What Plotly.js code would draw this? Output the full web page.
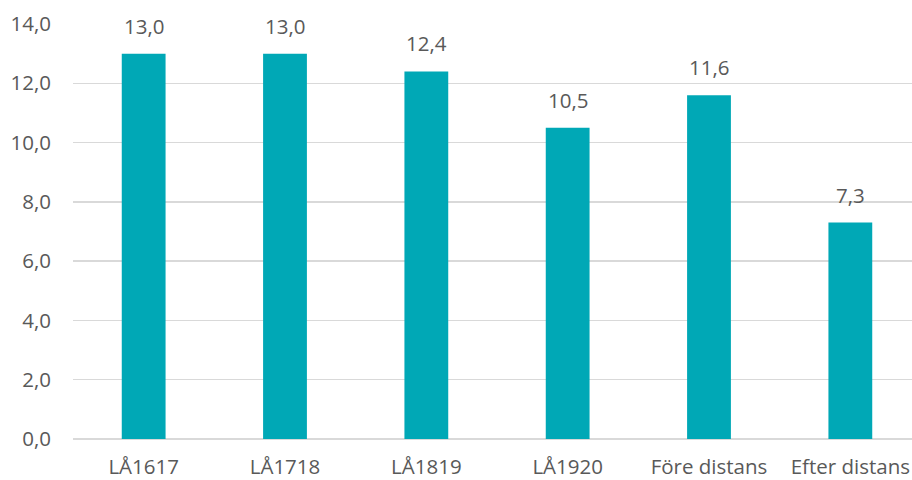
<!DOCTYPE html>
<html>
<head>
<meta charset="utf-8">
<script src="https://cdn.plot.ly/plotly-3.0.1.min.js"></script>
<style>
html, body { margin: 0; padding: 0; overflow: hidden; background: #fff; }
#chart { width: 921px; height: 480px; }
</style>
</head>
<body>
<div id="chart"></div>
<script>
const categories = ["LÅ1617", "LÅ1718", "LÅ1819", "LÅ1920", "Före distans", "Efter distans"];
const values = [13.0, 13.0, 12.4, 10.5, 11.6, 7.3];
const yTicks = [0, 2, 4, 6, 8, 10, 12, 14];

const barColor = "#00A8B6";
const textColor = "#595959";
const fontFamily = "'Open Sans', 'Liberation Sans', sans-serif";

const trace = {
  type: "bar",
  x: categories,
  y: values,
  marker: { color: barColor },
  hoverinfo: "none"
};

const annotations = categories.map((c, i) => ({
  x: c,
  y: values[i],
  xref: "x",
  yref: "y",
  text: values[i].toFixed(1).replace(".", ","),
  showarrow: false,
  yanchor: "bottom",
  yshift: 12,
  font: { family: fontFamily, size: 20.5, color: textColor }
}));

const layout = {
  width: 921,
  height: 480,
  margin: { l: 73, r: 0, t: 24, b: 41 },
  paper_bgcolor: "#ffffff",
  plot_bgcolor: "#ffffff",
  separators: ", ",
  bargap: 0.69,
  showlegend: false,
  font: { family: fontFamily, size: 20.5, color: textColor },
  xaxis: {
    type: "category",
    showgrid: false,
    zeroline: false,
    showline: false,
    ticks: "",
    ticklabelstandoff: 13,
    tickfont: { family: fontFamily, size: 20.5, color: textColor }
  },
  yaxis: {
    range: [0, 14],
    tickvals: yTicks,
    ticktext: yTicks.map(v => v.toFixed(1).replace(".", ",")),
    showgrid: true,
    gridcolor: "#d9d9d9",
    gridwidth: 1.5,
    zeroline: true,
    zerolinecolor: "#d9d9d9",
    zerolinewidth: 1.5,
    showline: false,
    ticks: "",
    ticklabelstandoff: 21,
    tickfont: { family: fontFamily, size: 20.5, color: textColor }
  },
  annotations: annotations
};

Plotly.newPlot("chart", [trace], layout, { displayModeBar: false, staticPlot: true });
</script>
</body>
</html>
